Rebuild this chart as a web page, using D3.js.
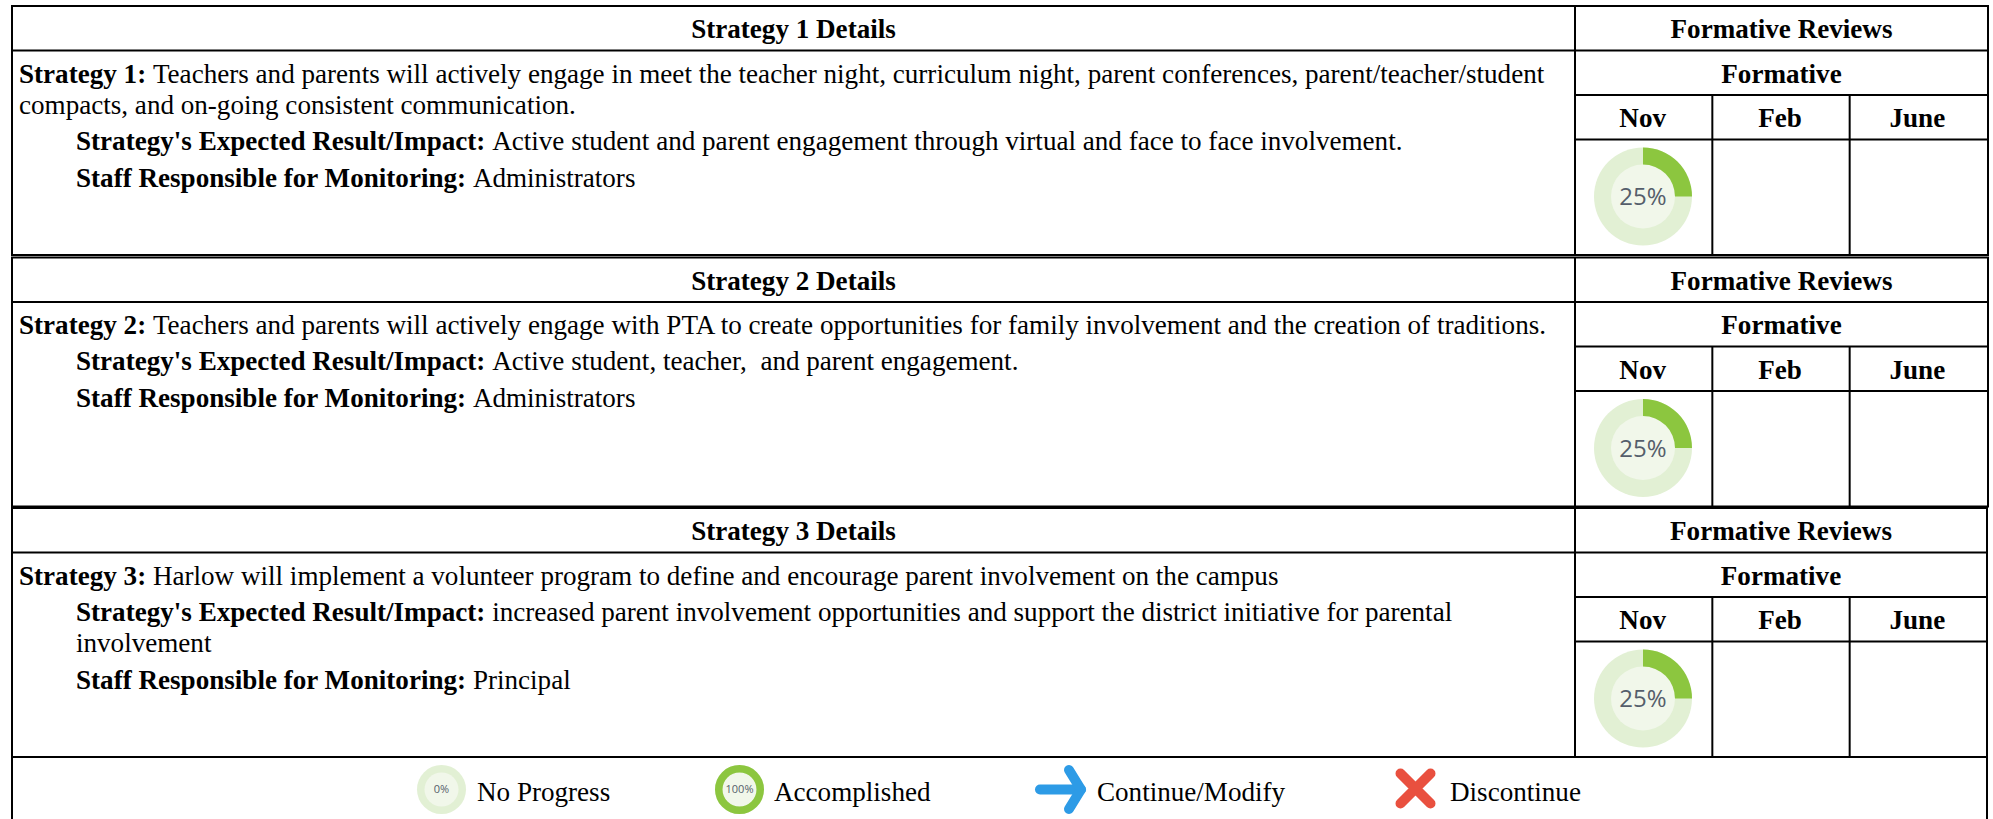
<!DOCTYPE html>
<html>
<head>
<meta charset="utf-8">
<script src="https://cdn.jsdelivr.net/npm/d3@7"></script>
<style>
  html, body { margin: 0; padding: 0; background: #fff; }
  svg { display: block; }
  text { font-family: "Liberation Serif", serif; fill: #000; }
</style>
</head>
<body>
<div id="chart"></div>
<script>
// chart values
const strategyNames = ["Strategy 1", "Strategy 2", "Strategy 3"];
const strategyLines = [
  ["Teachers and parents will actively engage in meet the teacher night, curriculum night, parent conferences, parent/teacher/student", "compacts, and on-going consistent communication."],
  ["Teachers and parents will actively engage with PTA to create opportunities for family involvement and the creation of traditions."],
  ["Harlow will implement a volunteer program to define and encourage parent involvement on the campus"]
];
const expectedLines = [
  ["Active student and parent engagement through virtual and face to face involvement."],
  ["Active student, teacher,  and parent engagement."],
  ["increased parent involvement opportunities and support the district initiative for parental", "involvement"]
];
const staffNames = ["Administrators", "Administrators", "Principal"];
const reviewMonths = ["Nov", "Feb", "June"];
const novProgress = [25, 25, 25];
const legendLabels = ["No Progress", "Accomplished", "Continue/Modify", "Discontinue"];
const legendProgress = [0, 100];

// layout
const width = 1993, height = 819;
const blockTops = [6, 257.5, 508];
const blockRights = [1988, 1988, 1987];
const left = 12, split = 1575;
const rowH = 44.5, blockH = 249;
const fontSize = 27.1;
const lineH = 31;

const svg = d3.select("#chart").append("svg")
  .attr("width", width)
  .attr("height", height);

const xMonth = d3.scaleBand().domain(reviewMonths).range([split, 1987]);
const progressScale = d3.scaleLinear().domain([0, 100]).range([0, 2 * Math.PI]);

function drawDonut(g, value, r, inner, fs) {
  const arc = d3.arc().innerRadius(inner).outerRadius(r).startAngle(0);
  g.append("circle").attr("r", r).attr("fill", "#e2f0d4");
  g.append("circle").attr("r", inner).attr("fill", "#f1f7ea");
  if (value > 0) {
    g.append("path")
      .attr("d", arc({endAngle: progressScale(value)}))
      .attr("fill", "#8cc63f");
  }
  g.append("text")
    .attr("text-anchor", "middle")
    .attr("dy", "0.36em")
    .style("font-family", "'Open Sans', sans-serif")
    .style("font-size", fs + "px")
    .style("fill", "#555e6b")
    .text(value + "%");
}

function line(g, x1, y1, x2, y2, w) {
  g.append("line")
    .attr("x1", x1).attr("y1", y1).attr("x2", x2).attr("y2", y2)
    .attr("stroke", "#000").attr("stroke-width", w || 2);
}

function richLine(g, x, y, bold, rest) {
  const t = g.append("text").attr("x", x).attr("y", y)
    .attr("xml:space", "preserve")
    .style("font-size", fontSize + "px");
  if (bold) t.append("tspan").style("font-weight", "bold").text(bold + " ");
  t.append("tspan").text(rest);
}

function headerText(g, x, y, t) {
  g.append("text").attr("x", x).attr("y", y)
    .attr("text-anchor", "middle")
    .style("font-size", fontSize + "px").style("font-weight", "bold")
    .text(t);
}

strategyNames.forEach(function(name, i) {
  const g = svg.append("g").attr("transform", "translate(0," + blockTops[i] + ")");
  const right = blockRights[i];
  const reviewMid = (split + right) / 2;

  // outer box and grid lines
  g.append("rect")
    .attr("x", left).attr("y", 0)
    .attr("width", right - left).attr("height", blockH)
    .attr("fill", "none").attr("stroke", "#000").attr("stroke-width", 2);
  line(g, split, 0, split, blockH);
  line(g, left, rowH, right, rowH);
  line(g, split, 2 * rowH, right, 2 * rowH);
  line(g, split, 3 * rowH, right, 3 * rowH);
  reviewMonths.slice(1).forEach(function(m) {
    line(g, xMonth(m), 2 * rowH, xMonth(m), blockH);
  });

  // header texts
  headerText(g, (left + split) / 2, 32, name + " Details");
  headerText(g, reviewMid, 32, "Formative Reviews");
  headerText(g, reviewMid, 32 + rowH, "Formative");
  reviewMonths.forEach(function(m) {
    headerText(g, xMonth(m) + xMonth.bandwidth() / 2 - 1, 32 + 2 * rowH, m);
  });

  // strategy text
  let y = 76.5;
  strategyLines[i].forEach(function(t, j) {
    richLine(g, 19, y, j == 0 ? name + ":" : "", t);
    if (j < strategyLines[i].length - 1) y += lineH;
  });
  y += 36;
  expectedLines[i].forEach(function(t, j) {
    richLine(g, 76, y, j == 0 ? "Strategy's Expected Result/Impact:" : "", t);
    if (j < expectedLines[i].length - 1) y += lineH;
  });
  y += 37;
  richLine(g, 76, y, "Staff Responsible for Monitoring:", staffNames[i]);

  // november progress donut
  const donut = g.append("g")
    .attr("transform", "translate(1643," + (3 * rowH + 57) + ")");
  drawDonut(donut, novProgress[i], 49, 32, 24);
});

// legend row
const legend = svg.append("g").attr("transform", "translate(0,757)");
line(legend, left, 0, left, height - 757);
line(legend, 1987, 0, 1987, height - 757);
line(legend, left, 0, 1987, 0);

const legendIconX = [441.5, 739.5, 1060, 1415.5];
const legendTextX = [477, 774, 1097, 1450];
const legendY = 32.5;

legendProgress.forEach(function(v, i) {
  const g = legend.append("g").attr("transform", "translate(" + legendIconX[i] + "," + legendY + ")");
  drawDonut(g, v, 24.5, 17, 11);
});

// arrow and cross icons
legend.append("path")
  .attr("transform", "translate(" + legendIconX[2] + "," + legendY + ")")
  .attr("d", d3.line()([[-20, 0], [21, 0]]))
  .attr("stroke", "#2d9be6").attr("stroke-width", 10).attr("stroke-linecap", "round");
legend.append("path")
  .attr("transform", "translate(" + legendIconX[2] + "," + legendY + ")")
  .attr("d", d3.line()([[9, -19.5], [21, 0], [9, 19.5]]))
  .attr("fill", "none")
  .attr("stroke", "#2d9be6").attr("stroke-width", 10).attr("stroke-linecap", "round").attr("stroke-linejoin", "round");
legend.append("path")
  .attr("transform", "translate(" + legendIconX[3] + "," + (legendY - 1) + ")")
  .attr("d", "M-15,-15L15,15M15,-15L-15,15")
  .attr("fill", "none")
  .attr("stroke", "#e9503f").attr("stroke-width", 10).attr("stroke-linecap", "round");

legendLabels.forEach(function(t, i) {
  legend.append("text")
    .attr("x", legendTextX[i]).attr("y", 44)
    .style("font-size", fontSize + "px")
    .text(t);
});
</script>
</body>
</html>
